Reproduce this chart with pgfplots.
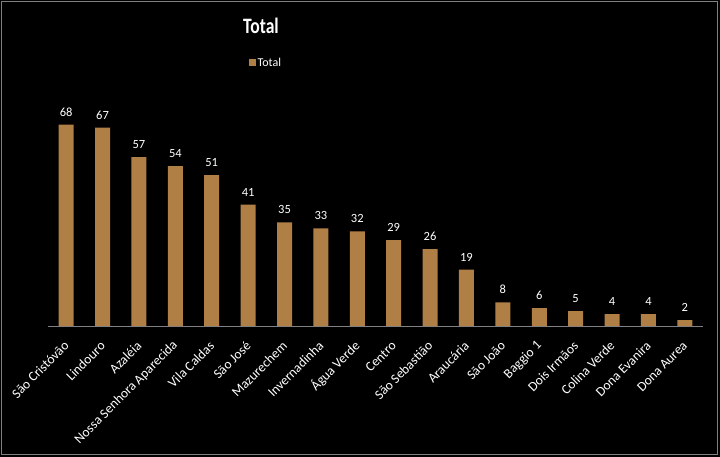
\documentclass[border=0pt]{standalone}
\usepackage{fontspec}
\setmainfont{Carlito}
\usepackage{pgfplots}
\pgfplotsset{compat=1.18}
\definecolor{barc}{RGB}{176,127,70}
\definecolor{axgray}{RGB}{128,128,128}
\begin{document}
\begin{tikzpicture}
\fill[black] (-48pt,-131pt) rectangle (672pt,326pt);
\useasboundingbox (-48pt,-131pt) rectangle (672pt,326pt);
\begin{axis}[
  at={(18.19pt,0pt)}, anchor=origin,
  scale only axis, width=655pt, height=225pt,
  xmin=-0.5, xmax=17.5, ymin=0, ymax=76,
  axis y line=none,
  axis x line*=bottom,
  x axis line style={draw=axgray, line width=0.8pt},
  xtick=data,
  xtick style={draw=none},
  xticklabels={São Cristóvão, Lindouro, Azaléia, Nossa Senhora Aparecida, Vila Caldas, São José, Mazurechem, Invernadinha, Água Verde, Centro, São Sebastião, Araucária, São João, Baggio 1, Dois Irmãos, Colina Verde, Dona Evanira, Dona Aurea},
  xticklabel style={xshift=1pt, yshift=-12.5pt, rotate=45, anchor=east, font=\fontsize{13.5}{15}\selectfont, text=white, inner sep=1pt},
  ybar, bar width=15pt,
  nodes near coords,
  every node near coord/.append style={text=white, font=\fontsize{12.5}{14}\selectfont, anchor=south, yshift=5pt},
  /pgf/number format/assume math mode=true,
  legend style={at={(0.333,1.169)}, anchor=center, draw=none, fill=none, text=white, font=\fontsize{12}{14}\selectfont, inner sep=0pt},
  legend image code/.code={\fill[barc] (0pt,-3pt) rectangle (6.5pt,3.5pt);},
  clip=false,
]
\addplot[fill=barc, draw=none] coordinates {
(0,68) (1,67) (2,57) (3,54) (4,51) (5,41) (6,35) (7,33) (8,32) (9,29) (10,26) (11,19) (12,8) (13,6) (14,5) (15,4) (16,4) (17,2)};
\addlegendentry{Total}
\end{axis}
\node[text=white, font=\bfseries\fontsize{22}{24}\selectfont, xscale=0.8, transform shape] at (213pt,300pt) {Total};
\draw[axgray, line width=1.2pt] (-46.5pt,324.5pt) rectangle (669.5pt,-128.5pt);
\end{tikzpicture}
\end{document}
